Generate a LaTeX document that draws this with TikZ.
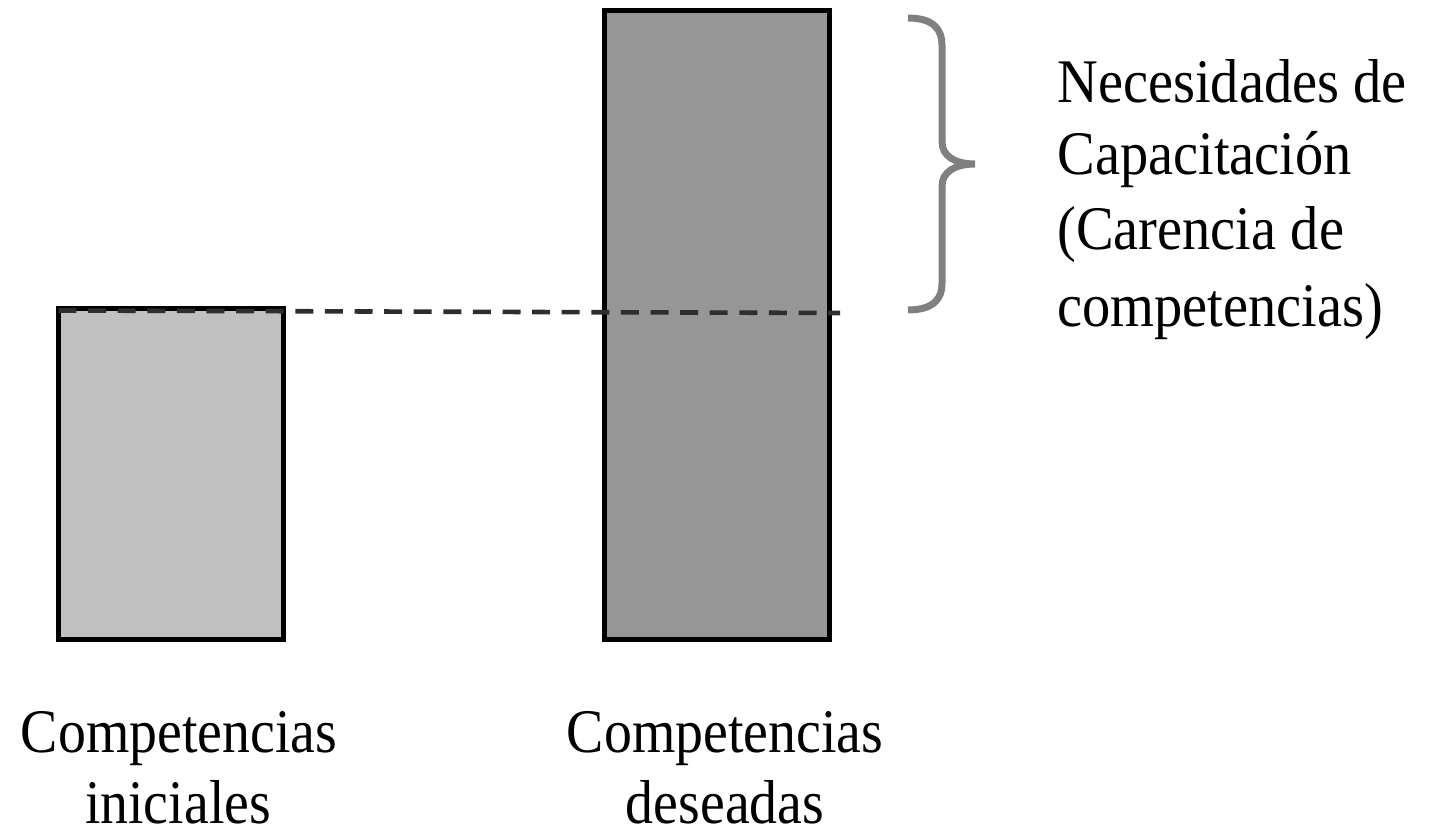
\documentclass[tikz,border=0pt]{standalone}
\usepackage{fontspec}
\setmainfont{Liberation Serif}
\definecolor{lightbar}{HTML}{C0C0C0}
\definecolor{darkbar}{HTML}{969696}
\definecolor{dashcol}{HTML}{2E2E2E}
\definecolor{bracecol}{HTML}{808080}
\begin{document}
\begin{tikzpicture}[x=0.5pt,y=-0.5pt,
  bar/.style={draw=black, line width=2.5pt, inner sep=0pt, minimum width=112.5pt},
  lbl/.style={inner sep=0pt, font=\fontsize{31}{37}\selectfont},
  dashline/.style={draw=dashcol, line width=2.3pt, dash pattern=on 9pt off 5.8pt},
  bracestyle/.style={draw=bracecol, line width=3.5pt}]
\useasboundingbox[fill=white] (0,0) rectangle (1429,838);
% bars
\node[bar, fill=lightbar, minimum height=165.5pt] (ini) at (171,474) {};
\node[bar, fill=darkbar, minimum height=314.5pt] (des) at (717,325) {};
% dashed level line
\coordinate (gapend) at (840,313);
\draw[dashline] ([xshift=1.25pt,yshift=-2.25pt]ini.north west) -- (gapend);
% brace
\draw[bracestyle] (908,18) .. controls (934,18) and (942,30) .. (942,45)
  -- (942,142) .. controls (942,156) and (955,164) .. (975,164)
  .. controls (955,164) and (942,172) .. (942,186)
  -- (942,284) .. controls (942,298) and (934,310) .. (908,310);
% right labels
\node[lbl, anchor=base west] (n1) at (1057,103) {\scalebox{0.91}[1]{Necesidades de}};
\node[lbl, anchor=base west] (n2) at (1057,175) {\scalebox{0.91}[1]{Capacitación}};
\node[lbl, anchor=base west] (n3) at (1057,250) {\scalebox{0.91}[1]{(Carencia de}};
\node[lbl, anchor=base west] (n4) at (1057,327) {\scalebox{0.91}[1]{competencias)}};
% bottom labels
\node[lbl, anchor=base] (c1) at (179,753) {\scalebox{0.9}[1]{Competencias}};
\node[lbl, anchor=base] (c2) at (178,823) {\scalebox{0.9}[1]{iniciales}};
\node[lbl, anchor=base] (d1) at (725,753) {\scalebox{0.9}[1]{Competencias}};
\node[lbl, anchor=base] (d2) at (725,823) {\scalebox{0.9}[1]{deseadas}};
\end{tikzpicture}
\end{document}
